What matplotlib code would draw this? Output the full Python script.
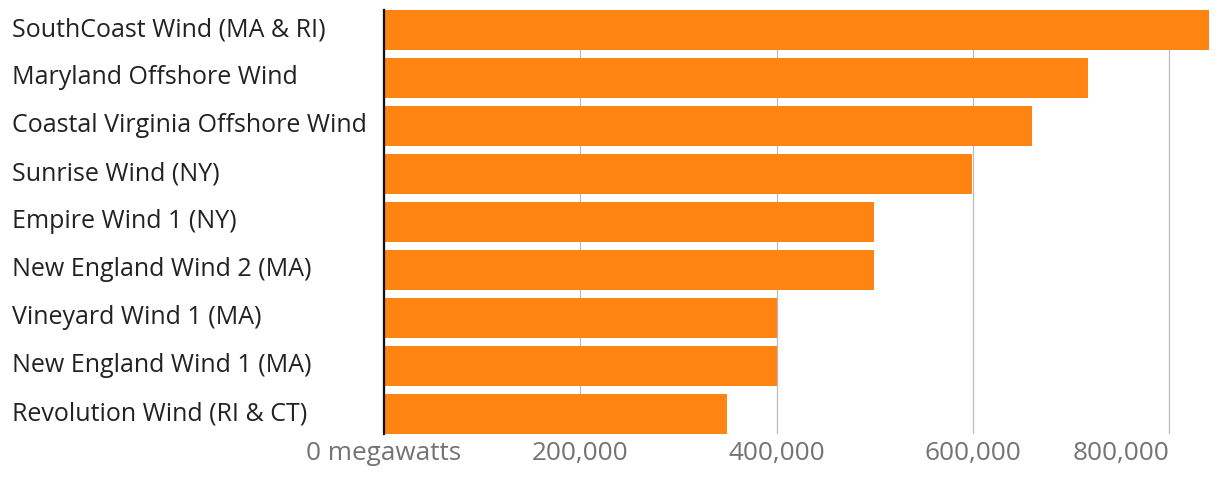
import matplotlib
matplotlib.use("Agg")
import matplotlib.pyplot as plt
from matplotlib.transforms import blended_transform_factory

projects = [
    "SouthCoast Wind (MA & RI)",
    "Maryland Offshore Wind",
    "Coastal Virginia Offshore Wind",
    "Sunrise Wind (NY)",
    "Empire Wind 1 (NY)",
    "New England Wind 2 (MA)",
    "Vineyard Wind 1 (MA)",
    "New England Wind 1 (MA)",
    "Revolution Wind (RI & CT)",
]
capacity = [840000, 717000, 660000, 599000, 499000, 499000, 400000, 400000, 349000]
tick_values = [0, 200000, 400000, 600000, 800000]
tick_labels = ["0 megawatts", "200,000", "400,000", "600,000", "800,000"]

FONT = ["Open Sans", "DejaVu Sans"]
BAR_COLOR = "#FF8412"

W, H = 1220, 480
fig = plt.figure(figsize=(W / 100, H / 100), dpi=100)
ax = fig.add_axes([384 / W, 1 - 434 / H, (1208.5 - 384) / W, 424 / H])

bh = 40 / 48
pos = list(range(len(projects)))
ax.barh(pos, capacity, height=bh, color=BAR_COLOR, zorder=2)
ax.set_ylim(len(projects) - 1 + bh / 2, -bh / 2)
ax.set_xlim(0, 840000)

for s in ["top", "right", "bottom"]:
    ax.spines[s].set_visible(False)
ax.spines["left"].set_color("#111111")
ax.spines["left"].set_linewidth(1.6)
ax.spines["left"].set_zorder(3)

ax.set_yticks([])
ax.set_xticks(tick_values)
ax.set_xticklabels(tick_labels, fontfamily=FONT, fontsize=18.8, color="#737373")
ax.tick_params(axis="x", length=0, pad=5)
ax.get_xticklabels()[-1].set_horizontalalignment("right")
ax.xaxis.grid(True, color="#bdbdbd", linewidth=0.9, zorder=0)
ax.set_axisbelow(True)

trans = blended_transform_factory(fig.transFigure, ax.transData)
for p, name in zip(pos, projects):
    ax.text(12 / W, p, name, transform=trans, ha="left", va="center",
            fontfamily=FONT, fontsize=18, color="#222222")

fig.savefig("out.png", dpi=100)
